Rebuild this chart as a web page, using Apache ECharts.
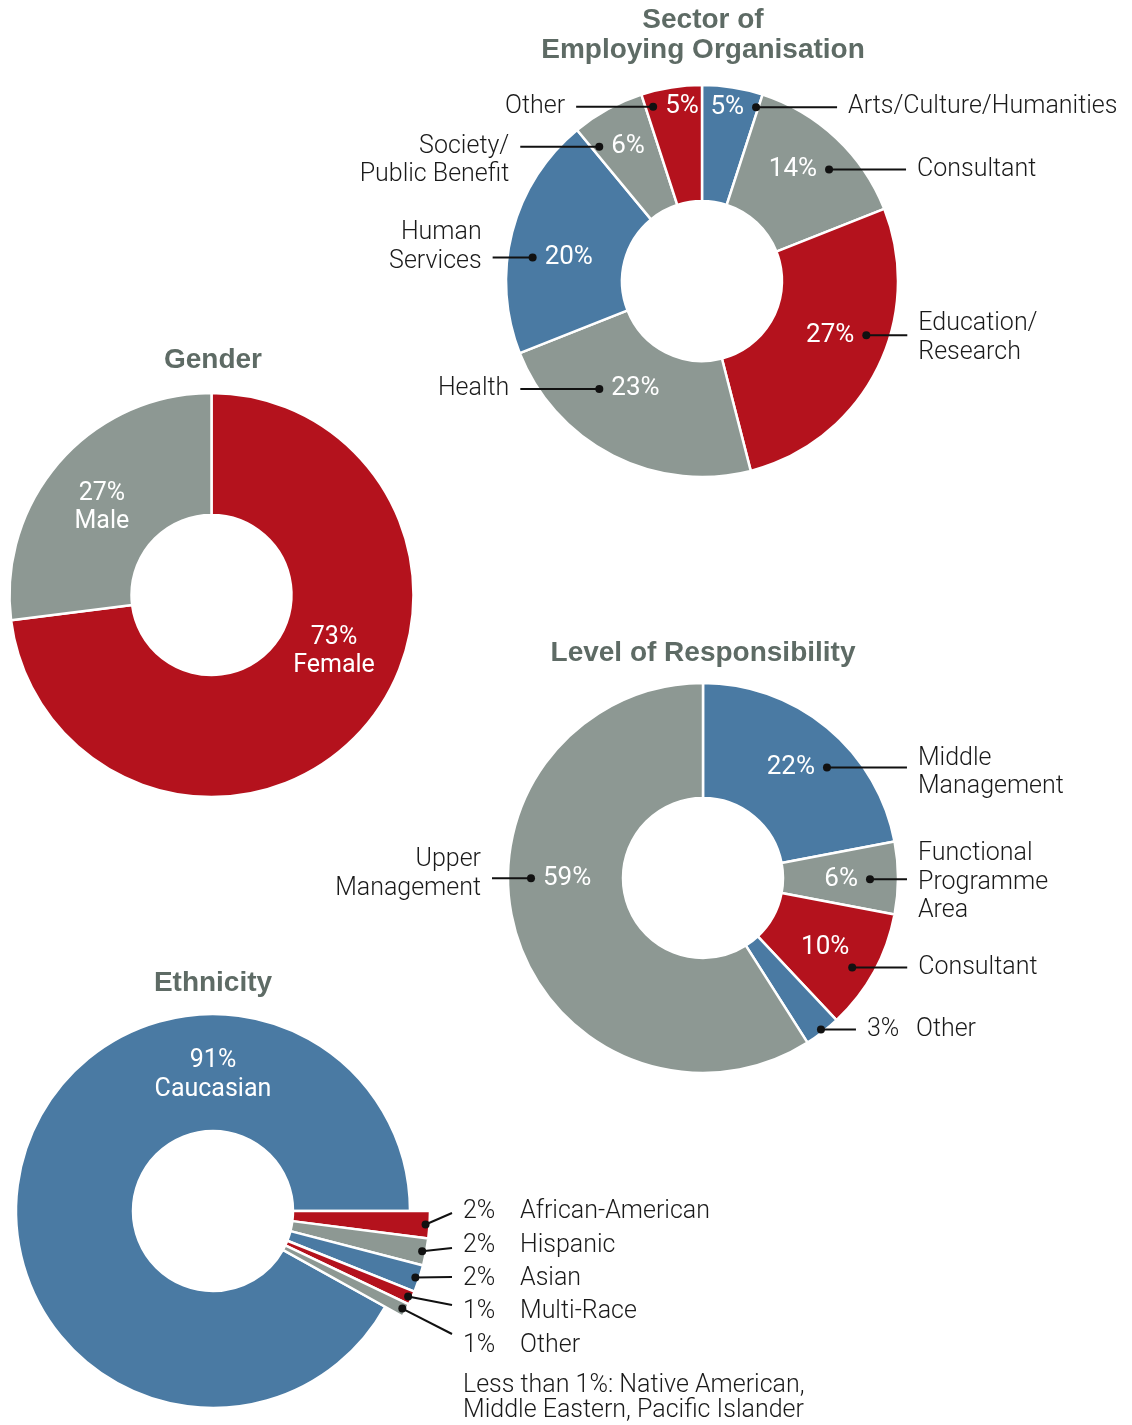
<!DOCTYPE html>
<html>
<head>
<meta charset="utf-8">
<title>Respondent profile</title>
<script src="https://cdn.jsdelivr.net/npm/echarts@6/dist/echarts.min.js"></script>
<style>
  html, body { margin: 0; padding: 0; background: #fff; }
  #chartmain { width: 1132px; height: 1425px; }
</style>
</head>
<body>
<div id="chartmain"></div>
<script>
// ---- data ----
var sectorNames = ['Arts/Culture/Humanities', 'Consultant', 'Education/\nResearch', 'Health', 'Human\nServices', 'Society/\nPublic Benefit', 'Other'];
var sectorValues = [5, 14, 27, 23, 20, 6, 5];

var genderNames = ['Female', 'Male'];
var genderValues = [73, 27];

var levelNames = ['Middle\nManagement', 'Functional\nProgramme\nArea', 'Consultant', 'Other', 'Upper\nManagement'];
var levelValues = [22, 6, 10, 3, 59];

var ethnicityNames = ['African-American', 'Hispanic', 'Asian', 'Multi-Race', 'Other', 'Caucasian'];
var ethnicityValues = [2, 2, 2, 1, 1, 91];
var ethnicityNote = 'Less than 1%: Native American,\nMiddle Eastern, Pacific Islander';

// ---- colours ----
var RED = '#b4121d', BLUE = '#4a7aa3', GREY = '#8d9893';
var sectorColors = [BLUE, GREY, RED, GREY, BLUE, GREY, RED];
var genderColors = [RED, GREY];
var levelColors = [BLUE, GREY, RED, BLUE, GREY];
var ethnicityColors = [RED, GREY, BLUE, RED, GREY, BLUE];

// ---- label placement (r: dot radius, f: position inside the slice, side: line direction) ----
var sectorLabels = [
	{r: 182, f: 0.96, side: 1, len: 81},
	{r: 169, f: 0.61, side: 1, len: 77},
	{r: 173, f: 0.41, side: 1, len: 41, vy: 3},
	{r: 149, f: 0.70, side: -1, len: 79},
	{r: 171, f: 0.41, side: -1, len: 40, vy: -10},
	{r: 169, f: 0.10, side: -1, len: 79, vy: 14},
	{r: 181, f: 0.13, side: -1, len: 77}
];
var genderLabels = [
	{r: 135, f: 0.437, side: 0},
	{r: 140, f: 0.47, side: 0}
];
var levelLabels = [
	{r: 166, f: 0.61, side: 1, len: 80, vy: 5},
	{r: 167, f: 0.52, side: 1, len: 37, vy: 3},
	{r: 174, f: 0.56, side: 1, len: 55, pd: [-27, -20]},
	{r: 192, f: 0.49, side: 1, len: 35, pct: 'out', gap: 49},
	{r: 172, f: 0.576, side: -1, len: 39, vy: -4}
];
var ethnicityLabels = [
	{r: 213, f: 0.5, side: 1, pct: 'out', gap: 57, to: [239, 2], vy: -1},
	{r: 213, f: 0.5, side: 1, pct: 'out', gap: 57, to: [239, 37], vy: -2},
	{r: 213, f: 0.5, side: 1, pct: 'out', gap: 57, to: [239, 66], vy: 2},
	{r: 213, f: 0.5, side: 1, pct: 'out', gap: 57, to: [239, 94], vy: 7},
	{r: 213, f: 0.5, side: 1, pct: 'out', gap: 57, to: [239, 123], vy: 12},
	{r: 136, f: 0.728, side: 0}
];

var FONT = 'Roboto, "Liberation Sans", sans-serif';
var TITLE_FONT = '"Liberation Sans", Arial, sans-serif';
var LABEL_SIZE = 25;
var INK = '#1a1a1a';

function sum(arr) {
	var s = 0;
	for (var i = 0; i < arr.length; i++) s += arr[i];
	return s;
}

function pieData(names, values, colors, hide) {
	var out = [];
	for (var i = 0; i < values.length; i++) {
		var hidden = hide && hide(i);
		out.push({
			name: names[i],
			value: values[i],
			itemStyle: hidden ? {color: 'rgba(0,0,0,0)', borderWidth: 0} : {color: colors[i]}
		});
	}
	return out;
}

function pie(center, radius, startAngle, data) {
	return {
		type: 'pie',
		center: center,
		radius: radius,
		startAngle: startAngle,
		clockwise: true,
		silent: true,
		z: 2,
		label: {show: false},
		labelLine: {show: false},
		itemStyle: {borderColor: '#fff', borderWidth: 2.5},
		data: data
	};
}

function txt(x, y, text, align, fill, weight, size) {
	return {
		type: 'text',
		x: x,
		y: y,
		style: {
			text: text,
			fill: fill,
			fontFamily: FONT,
			fontSize: size || LABEL_SIZE,
			fontWeight: weight || 300,
			lineHeight: 28.5,
			align: align,
			verticalAlign: 'middle'
		}
	};
}

// labels, leader lines and dots placed through the polar scales
function labelSeries(polarIndex, names, values, cfg) {
	var data = [];
	var cum = 0;
	for (var i = 0; i < values.length; i++) {
		data.push([cfg[i].r, cum + values[i] * cfg[i].f, i]);
		cum += values[i];
	}
	return {
		type: 'custom',
		coordinateSystem: 'polar',
		polarIndex: polarIndex,
		silent: true,
		z: 10,
		data: data,
		renderItem: function(params, api) {
			var i = api.value(2);
			var c = cfg[i];
			var cs = params.coordSys;
			var p = api.coord([api.value(0), api.value(1)]);
			var x = p[0], y = p[1];
			var pctText = values[i] + '%';
			var kids = [];
			if (c.side === 0) {
				kids.push(txt(x, y, pctText + '\n' + names[i], 'center', '#fff', 400));
				return {type: 'group', children: kids};
			}
			var ex = x + c.side * c.len, ey = y;
			if (c.to) {
				ex = cs.cx + c.to[0];
				ey = cs.cy + c.to[1];
			}
			var align = c.side > 0 ? 'left' : 'right';
			kids.push({
				type: 'line',
				shape: {x1: x, y1: y, x2: ex, y2: ey},
				style: {stroke: '#111', lineWidth: 2}
			});
			kids.push({
				type: 'circle',
				shape: {cx: x, cy: y, r: 4},
				style: {fill: '#111'}
			});
			if (c.pct === 'out') {
				var px = ex + c.side * 11;
				kids.push(txt(px, ey + (c.vy || 0), pctText, align, INK));
				kids.push(txt(px + c.side * c.gap, ey + (c.vy || 0), names[i], align, INK));
			} else {
				if (c.pd) {
					kids.push(txt(x + c.pd[0], y + c.pd[1], pctText, 'center', '#fff', 400, 26));
				} else {
					kids.push(txt(x - c.side * 12, y, pctText, c.side > 0 ? 'right' : 'left', '#fff', 400, 26));
				}
				kids.push(txt(ex + c.side * 11, ey + (c.vy || 0), names[i], align, INK));
			}
			return {type: 'group', children: kids};
		}
	};
}

function polarAxes(total, rmax, startAngle, idx) {
	return {
		angle: {
			polarIndex: idx, type: 'value', min: 0, max: total, startAngle: startAngle, clockwise: true,
			axisLine: {show: false}, axisTick: {show: false}, axisLabel: {show: false}, splitLine: {show: false}
		},
		radius: {
			polarIndex: idx, type: 'value', min: 0, max: rmax,
			axisLine: {show: false}, axisTick: {show: false}, axisLabel: {show: false}, splitLine: {show: false}
		}
	};
}

var charts = [
	{center: [702, 281], r0: 80, r: 196, start: 90, names: sectorNames, values: sectorValues, colors: sectorColors, labels: sectorLabels},
	{center: [211.5, 595], r0: 80, r: 202, start: 90, names: genderNames, values: genderValues, colors: genderColors, labels: genderLabels},
	{center: [703, 878], r0: 80, r: 195, start: 90, names: levelNames, values: levelValues, colors: levelColors, labels: levelLabels},
	{center: [213, 1211], r0: 80, r: 217, start: 0, names: ethnicityNames, values: ethnicityValues, colors: ethnicityColors, labels: ethnicityLabels}
];

var polar = [], angleAxis = [], radiusAxis = [], series = [];
for (var k = 0; k < charts.length; k++) {
	var ch = charts[k];
	polar.push({center: ch.center, radius: ch.r});
	var ax = polarAxes(sum(ch.values), ch.r, ch.start, k);
	angleAxis.push(ax.angle);
	radiusAxis.push(ax.radius);
	if (k === 3) {
		// small groups stick out past the main ring
		var last = ch.values.length - 1;
		series.push(pie(ch.center, [ch.r0, 197], ch.start, pieData(ch.names, ch.values, ch.colors, function(i) { return i !== last; })));
		series.push(pie(ch.center, [ch.r0, ch.r], ch.start, pieData(ch.names, ch.values, ch.colors, function(i) { return i === last; })));
	} else {
		series.push(pie(ch.center, [ch.r0, ch.r], ch.start, pieData(ch.names, ch.values, ch.colors)));
	}
	series.push(labelSeries(k, ch.names, ch.values, ch.labels));
}

var titleStyle = {fontFamily: TITLE_FONT, fontSize: 28, fontWeight: 'bold', color: '#5e6b65', lineHeight: 30};
var option = {
	animation: false,
	backgroundColor: '#fff',
	title: [
		{text: 'Sector of\nEmploying Organisation', left: 703, top: 5, textAlign: 'center', padding: 0, textStyle: titleStyle},
		{text: 'Gender', left: 213, top: 345, textAlign: 'center', padding: 0, textStyle: titleStyle},
		{text: 'Level of Responsibility', left: 703, top: 638, textAlign: 'center', padding: 0, textStyle: titleStyle},
		{text: 'Ethnicity', left: 213, top: 968, textAlign: 'center', padding: 0, textStyle: titleStyle}
	],
	polar: polar,
	angleAxis: angleAxis,
	radiusAxis: radiusAxis,
	series: series,
	graphic: [{
		type: 'text',
		left: 463,
		top: 1373,
		style: {text: ethnicityNote, fill: INK, fontFamily: FONT, fontSize: 25, fontWeight: 300, lineHeight: 25}
	}]
};

var myChart = echarts.init(document.getElementById('chartmain'));
myChart.setOption(option);
</script>
</body>
</html>
